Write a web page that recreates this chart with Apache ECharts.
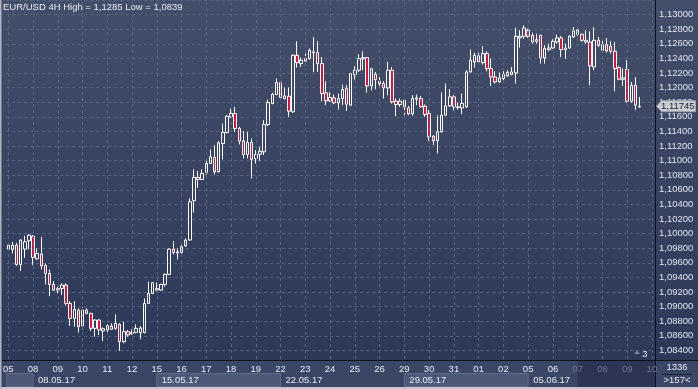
<!DOCTYPE html>
<html><head><meta charset="utf-8">
<script src="https://cdn.jsdelivr.net/npm/echarts@6/dist/echarts.min.js"></script>
<style>html,body{margin:0;padding:0;background:#2f3b59;}#c{width:698px;height:389px;}</style>
</head><body><div id="c"></div>
<script>
const chartTitle = 'EUR/USD 4H High = 1,1285 Low = 1,0839';
const dayLabels = ['05','08','09','10','11','12','15','16','17','18','19','22','23','24','25','26','29','30','31','01','02','05','06','07','08','09','10'];
const weekLabels = ['08.05.17','15.05.17','22.05.17','29.05.17','05.06.17'];
const weekStartDay = [1, 6, 11, 16, 21];
const dimFromDay = 23;
const barsPerDay = 6;
const slotCount = 157;
const priceMin = 1.082, priceMax = 1.132, priceStep = 0.002;
const barCountText = '1336', visibleBarsText = '>157<', counterText = '3';

const open = [1.09787,1.09783,1.09842,1.09577,1.09787,1.09901,1.09965,1.09655,1.09719,1.09564,1.09454,1.09304,1.09226,1.09249,1.09295,1.09044,1.08839,1.08953,1.08734,1.08953,1.08907,1.08702,1.08816,1.08666,1.08679,1.08734,1.08702,1.08757,1.08519,1.08656,1.08629,1.08647,1.08643,1.08643,1.09044,1.09181,1.09226,1.09226,1.09304,1.09441,1.09787,1.09733,1.09742,1.09833,1.09912,1.10450,1.10769,1.10742,1.10838,1.10961,1.11043,1.10847,1.11234,1.11385,1.11599,1.11645,1.11440,1.11271,1.11083,1.11248,1.11029,1.11088,1.11120,1.11494,1.11782,1.11905,1.12069,1.11850,1.11882,1.11668,1.12443,1.12329,1.12365,1.12397,1.12475,1.12480,1.12329,1.11928,1.11818,1.11859,1.11791,1.11850,1.11987,1.11759,1.12178,1.12238,1.12393,1.12411,1.12023,1.12183,1.12055,1.12055,1.11996,1.12238,1.11814,1.11768,1.11736,1.11722,1.11645,1.11841,1.11850,1.11745,1.11645,1.11335,1.11271,1.11394,1.11622,1.11750,1.11873,1.11727,1.11722,1.11736,1.12215,1.12352,1.12434,1.12342,1.12466,1.12260,1.12146,1.12078,1.12124,1.12160,1.12178,1.12201,1.12680,1.12703,1.12785,1.12716,1.12634,1.12716,1.12406,1.12520,1.12543,1.12625,1.12680,1.12520,1.12543,1.12694,1.12785,1.12730,1.12625,1.12625,1.12283,1.12648,1.12511,1.12589,1.12566,1.12498,1.12274,1.12114,1.12251,1.11814,1.12032,1.11736];
const high = [1.09851,1.09883,1.09874,1.09920,1.09970,1.09992,1.09979,1.09796,1.09956,1.09591,1.09509,1.09350,1.09272,1.09318,1.09318,1.09076,1.09076,1.08976,1.08989,1.08976,1.08916,1.08825,1.08825,1.08716,1.08757,1.08770,1.08893,1.08770,1.08793,1.08679,1.08688,1.08757,1.08734,1.09112,1.09340,1.09336,1.09331,1.09313,1.09454,1.09796,1.09897,1.09796,1.09842,1.09933,1.10482,1.10879,1.10856,1.10879,1.10997,1.11152,1.11212,1.11266,1.11508,1.11622,1.11713,1.11736,1.11462,1.11403,1.11394,1.11303,1.11143,1.11189,1.11554,1.11836,1.11928,1.12124,1.12092,1.12001,1.12001,1.12457,1.12635,1.12411,1.12466,1.12534,1.12694,1.12635,1.12420,1.12087,1.11941,1.11905,1.11919,1.12042,1.12033,1.12201,1.12292,1.12457,1.12498,1.12420,1.12270,1.12215,1.12146,1.12087,1.12352,1.12283,1.11850,1.11850,1.11850,1.11750,1.11896,1.11905,1.11886,1.11768,1.11690,1.11348,1.11622,1.11932,1.12055,1.11978,1.11896,1.11795,1.11918,1.12238,1.12520,1.12479,1.12475,1.12566,1.12498,1.12397,1.12224,1.12206,1.12224,1.12238,1.12283,1.12821,1.12785,1.12853,1.12808,1.12753,1.12739,1.12726,1.12580,1.12602,1.12662,1.12726,1.12707,1.12602,1.12716,1.12830,1.12808,1.12739,1.12785,1.12771,1.12830,1.12694,1.12648,1.12680,1.12634,1.12625,1.12297,1.12260,1.12374,1.12078,1.12146,1.11873];
const low = [1.09774,1.09728,1.09559,1.09491,1.09669,1.09783,1.09568,1.09637,1.09509,1.09304,1.09144,1.09213,1.09181,1.09158,1.09017,1.08734,1.08725,1.08643,1.08688,1.08893,1.08666,1.08588,1.08611,1.08529,1.08643,1.08679,1.08679,1.08392,1.08497,1.08588,1.08611,1.08633,1.08551,1.08633,1.09035,1.09172,1.09213,1.09217,1.09272,1.09432,1.09714,1.09646,1.09728,1.09819,1.09903,1.10286,1.10628,1.10733,1.10810,1.10952,1.10810,1.10838,1.11016,1.11371,1.11590,1.11394,1.11221,1.11029,1.11029,1.10756,1.10961,1.10993,1.11075,1.11472,1.11773,1.11896,1.11850,1.11837,1.11599,1.11654,1.12274,1.12283,1.12306,1.12384,1.12215,1.12215,1.11814,1.11759,1.11805,1.11773,1.11700,1.11759,1.11681,1.11745,1.12110,1.12215,1.12238,1.11928,1.11964,1.11978,1.12010,1.11850,1.11896,1.11782,1.11608,1.11736,1.11622,1.11622,1.11613,1.11759,1.11727,1.11599,1.11266,1.11212,1.11098,1.11385,1.11613,1.11736,1.11690,1.11700,1.11636,1.11722,1.12206,1.12274,1.12315,1.12315,1.12224,1.12023,1.12055,1.12064,1.12101,1.12146,1.12169,1.12055,1.12548,1.12671,1.12680,1.12602,1.12602,1.12329,1.12329,1.12498,1.12534,1.12602,1.12420,1.12397,1.12534,1.12680,1.12707,1.12625,1.12602,1.12032,1.12238,1.12557,1.12488,1.12479,1.12466,1.11950,1.12101,1.12023,1.11795,1.11795,1.11690,1.11722];
const close = [1.09842,1.09842,1.09577,1.09910,1.09888,1.09979,1.09673,1.09728,1.09559,1.09454,1.09304,1.09226,1.09245,1.09295,1.09044,1.08839,1.08962,1.08725,1.08953,1.08907,1.08702,1.08816,1.08679,1.08697,1.08738,1.08688,1.08770,1.08519,1.08656,1.08611,1.08647,1.08702,1.08707,1.09044,1.09181,1.09327,1.09245,1.09304,1.09441,1.09787,1.09742,1.09751,1.09819,1.09910,1.10436,1.10769,1.10742,1.10824,1.10961,1.11052,1.10847,1.11244,1.11385,1.11608,1.11645,1.11440,1.11266,1.11083,1.11248,1.11016,1.11083,1.11129,1.11494,1.11795,1.11910,1.12069,1.11864,1.11887,1.11677,1.12443,1.12343,1.12375,1.12397,1.12511,1.12489,1.12329,1.11919,1.11818,1.11864,1.11791,1.11850,1.11973,1.11773,1.12192,1.12238,1.12397,1.12411,1.12023,1.12260,1.12110,1.12087,1.11996,1.12238,1.11804,1.11768,1.11814,1.11827,1.11640,1.11850,1.11859,1.11736,1.11631,1.11326,1.11271,1.11394,1.11622,1.11750,1.11873,1.11736,1.11736,1.11782,1.12215,1.12374,1.12443,1.12352,1.12466,1.12260,1.12146,1.12078,1.12133,1.12178,1.12206,1.12215,1.12703,1.12703,1.12817,1.12703,1.12625,1.12657,1.12406,1.12534,1.12543,1.12634,1.12680,1.12520,1.12543,1.12703,1.12776,1.12730,1.12648,1.12648,1.12297,1.12648,1.12580,1.12589,1.12502,1.12498,1.12260,1.12114,1.12133,1.11814,1.12032,1.11759,1.11745];

const FONT = '"Liberation Sans", Arial, sans-serif';
const FS = 9.5;
const chart = echarts.init(document.getElementById('c'), null, {renderer: 'canvas'});
const cats = [];
for (let i = 0; i < slotCount; i++) cats.push(String(i));
const candles = open.map((o, i) => [o, close[i], low[i], high[i]]);
const dayStartIdx = dayLabels.map((_, k) => k * barsPerDay);
const weekStartIdx = weekStartDay.map(k => k * barsPerDay);
const fmtPrice = v => v.toFixed(5).replace('.', ',');

const baseX = {type: 'category', data: cats, boundaryGap: true, position: 'bottom',
  axisLine: {show: false}, axisTick: {show: false}, splitLine: {show: false}};

chart.setOption({
  animation: false,
  title: {text: chartTitle, left: 3, top: 2, padding: 0,
    textStyle: {color: '#e8ecf3', fontSize: FS, fontWeight: 'normal', fontFamily: FONT}},
  grid: {left: 0, right: 44, top: -1, bottom: 24, containLabel: false},
  xAxis: [
    Object.assign({}, baseX, {axisLabel: {show: false}}),
    Object.assign({}, baseX, {z: 8, axisLabel: {show: true, margin: 4, verticalAlign: 'middle',
      color: '#e6eaf2', fontSize: FS, fontFamily: FONT,
      interval: (i) => i % barsPerDay === 0,
      formatter: (v) => { const k = Number(v) / barsPerDay; const t = dayLabels[k] || '';
        return k >= dimFromDay ? '{dim|' + t + '}' : t; },
      rich: {dim: {color: '#6d7893', fontSize: FS, fontFamily: FONT}}}}),
    Object.assign({}, baseX, {z: 8, axisLabel: {show: true, margin: 15, verticalAlign: 'middle',
      align: 'left', padding: [0, 0, 0, 5], color: '#e6eaf2', fontSize: FS, fontFamily: FONT,
      interval: (i) => weekStartIdx.indexOf(i) >= 0,
      formatter: (v) => { const w = weekStartIdx.indexOf(Number(v)); return w >= 0 ? weekLabels[w] : ''; }}})
  ],
  yAxis: {type: 'value', position: 'right', min: priceMin, max: priceMax, interval: priceStep,
    axisLine: {show: false}, axisTick: {show: false},
    splitLine: {show: true, lineStyle: {color: '#56637f', width: 1, type: [3, 3]}},
    axisLabel: {margin: 5, color: '#dfe5ef', fontSize: FS, fontFamily: FONT,
      showMinLabel: false, showMaxLabel: false, formatter: fmtPrice}},
  series: [
    {type: 'line', data: [], z: 1, silent: true,
      markLine: {symbol: 'none', silent: true, animation: false, label: {show: false},
        lineStyle: {color: '#56637f', width: 1, type: [3, 3]},
        data: dayStartIdx.map(i => ({xAxis: i}))}},
    {type: 'candlestick', data: candles, barWidth: 3, z: 3, silent: true,
      itemStyle: {color: 'transparent', color0: '#e0123b', borderColor: '#ffffff', borderColor0: '#ffffff', borderWidth: 1}}
  ]
});

const px = i => chart.convertToPixel({xAxisIndex: 0}, String(i));
const lastY = chart.convertToPixel({yAxisIndex: 0}, close[close.length - 1]);
const g = [];
g.push({type: 'rect', z: -10, shape: {x: 0, y: 0, width: 698, height: 389},
  style: {fill: new echarts.graphic.LinearGradient(0, 0, 0, 1, [{offset: 0, color: '#434e6a'}, {offset: 1, color: '#2b3757'}])}});
g.push({type: 'rect', z: 5, shape: {x: 0, y: 361, width: 698, height: 28}, style: {fill: '#3a4665'}});
g.push({type: 'rect', z: 5, shape: {x: 6.5, y: 373.5, width: px(weekStartIdx[0]) - 6.5, height: 13}, style: {fill: '#4b5878', stroke: '#5d6a88', lineWidth: 1}});
[1, 3].forEach(w => {
  const x0 = px(weekStartIdx[w]), x1 = px(weekStartIdx[w + 1]);
  g.push({type: 'rect', z: 5, shape: {x: x0, y: 373.5, width: x1 - x0, height: 13}, style: {fill: '#4b5878', stroke: '#5d6a88', lineWidth: 1}});
});
const dimX = px(dimFromDay * barsPerDay);
g.push({type: 'rect', z: 5, shape: {x: dimX, y: 361, width: 655.5 - dimX, height: 26}, style: {fill: '#2c3553'}});
g.push({type: 'line', z: 6, shape: {x1: 0, y1: 360.5, x2: 698, y2: 360.5}, style: {stroke: '#0c111d', lineWidth: 1}});
g.push({type: 'line', z: 6, shape: {x1: 655.5, y1: 0, x2: 655.5, y2: 389}, style: {stroke: '#0c111d', lineWidth: 1}});
g.push({type: 'rect', z: 9, shape: {x: 0, y: 387, width: 698, height: 2}, style: {fill: '#c5c9d1'}});
g.push({type: 'rect', z: 9, shape: {x: 0, y: 0, width: 1.5, height: 389}, style: {fill: '#aeb3bd'}});
g.push({type: 'text', z: 9, x: 677, y: 367.5, style: {text: barCountText, fill: '#e6eaf2', fontSize: FS, fontFamily: FONT, align: 'center', verticalAlign: 'middle'}});
g.push({type: 'line', z: 9, shape: {x1: 662, y1: 374.5, x2: 692, y2: 374.5}, style: {stroke: '#1c2438', lineWidth: 1}});
g.push({type: 'text', z: 9, x: 677, y: 380.5, style: {text: visibleBarsText, fill: '#e6eaf2', fontSize: FS, fontFamily: FONT, align: 'center', verticalAlign: 'middle'}});
g.push({type: 'polygon', z: 9, shape: {points: [[634, 354], [637, 350.5], [640, 354]]}, style: {fill: '#7d879c'}});
g.push({type: 'text', z: 9, x: 645, y: 354, style: {text: counterText, fill: '#e6eaf2', fontSize: FS, fontFamily: FONT, align: 'center', verticalAlign: 'middle'}});
g.push({type: 'polygon', z: 10, shape: {points: [[656.5, lastY], [661.5, lastY - 5.5], [695.5, lastY - 5.5], [695.5, lastY + 5.5], [661.5, lastY + 5.5]]},
  style: {fill: '#c9ccd2', stroke: '#9aa0aa', lineWidth: 1}});
g.push({type: 'text', z: 11, x: 661, y: lastY + 0.5, style: {text: fmtPrice(close[close.length - 1]), fill: '#1d2330', fontSize: FS, fontFamily: FONT, verticalAlign: 'middle'}});
chart.setOption({graphic: {elements: g}});
</script></body></html>
